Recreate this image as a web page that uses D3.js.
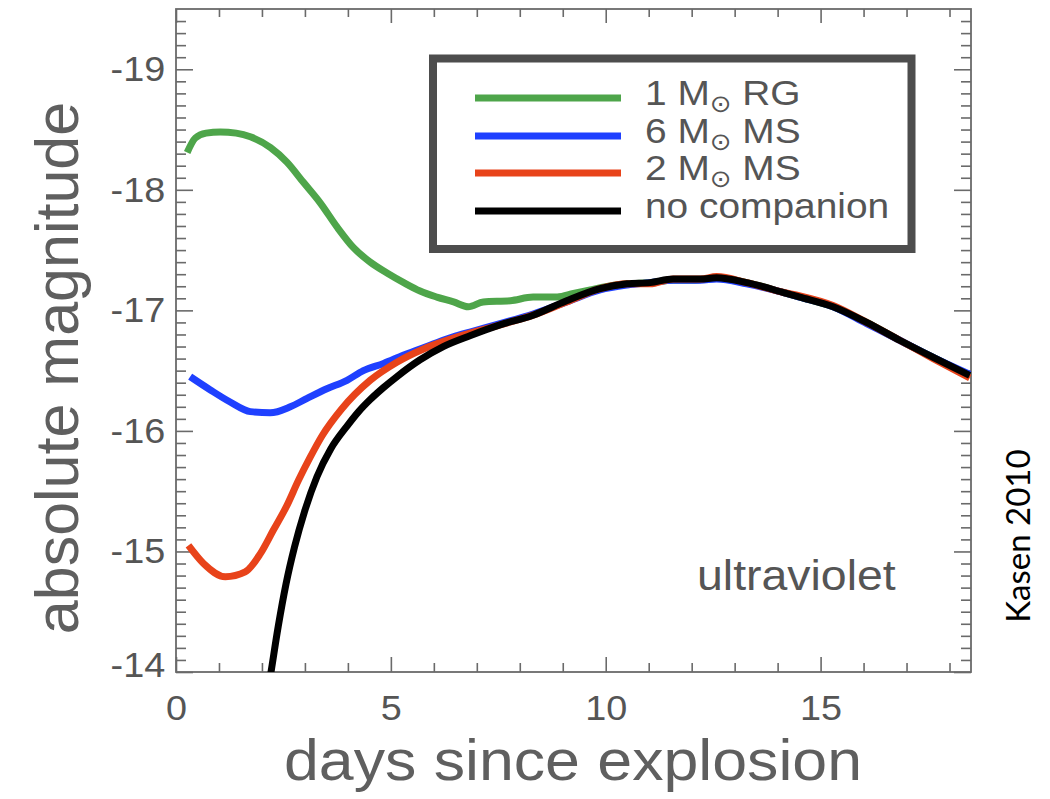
<!DOCTYPE html>
<html>
<head>
<meta charset="utf-8">
<script src="https://cdn.jsdelivr.net/npm/d3@7"></script>
<style>
  body { margin: 0; background: #fff; }
  text { font-family: "Liberation Sans", Arial, Helvetica, sans-serif; }
</style>
</head>
<body>
<svg id="chart" width="1050" height="799"></svg>
<script>
// days since explosion, absolute magnitude
const redGiant = [
  [0.26, -18.31], [0.45, -18.43], [0.7, -18.47], [1.03, -18.48], [1.4, -18.47],
  [1.73, -18.44], [2.2, -18.35], [2.58, -18.23], [2.97, -18.06], [3.36, -17.89],
  [3.75, -17.69], [4.13, -17.52], [4.52, -17.4], [4.91, -17.31], [5.3, -17.23],
  [5.68, -17.16], [6.07, -17.11], [6.46, -17.07], [6.8, -17.03], [7.15, -17.07],
  [7.78, -17.08], [8.31, -17.11], [8.87, -17.11], [9.25, -17.14], [9.64, -17.17],
  [9.9, -17.19], [10.5, -17.22], [11.03, -17.23], [11.57, -17.25], [12.03, -17.25],
  [12.58, -17.27], [13.28, -17.23], [14.12, -17.15], [14.52, -17.11], [15.29, -17.03],
  [16.07, -16.9], [16.85, -16.75], [17.62, -16.61], [18.47, -16.46]
];
const ms6 = [
  [0.33, -16.45], [0.8, -16.34], [1.26, -16.24], [1.73, -16.16], [2.19, -16.15],
  [2.66, -16.2], [3.05, -16.27], [3.51, -16.35], [3.98, -16.42], [4.36, -16.5],
  [4.83, -16.56], [5.3, -16.63], [5.91, -16.71], [6.45, -16.78], [6.84, -16.82],
  [7.54, -16.89], [8.31, -16.97], [9.09, -17.07], [9.87, -17.17], [10.5, -17.21],
  [11.03, -17.23], [11.57, -17.25], [12.2, -17.25], [12.58, -17.26], [13.28, -17.22],
  [14.12, -17.15], [14.52, -17.11], [15.29, -17.03], [16.07, -16.89], [16.85, -16.75],
  [17.62, -16.61], [18.47, -16.47]
];
const ms2 = [
  [0.29, -15.05], [0.64, -14.9], [1.15, -14.79], [1.61, -14.83], [1.96, -14.98],
  [2.27, -15.18], [2.58, -15.38], [2.85, -15.59], [3.12, -15.78], [3.4, -15.96],
  [3.85, -16.18], [4.52, -16.42], [5.14, -16.57], [5.76, -16.68], [6.46, -16.77],
  [7.54, -16.88], [8.31, -16.96], [9.09, -17.07], [9.87, -17.18], [10.5, -17.22],
  [11.03, -17.22], [11.57, -17.26], [12.2, -17.26], [12.58, -17.28], [13.28, -17.23],
  [14.12, -17.15], [14.52, -17.12], [15.29, -17.04], [16.07, -16.9], [16.85, -16.75],
  [17.62, -16.6], [18.47, -16.44]
];
const noCompanion = [
  [2.1, -13.75], [2.22, -14.02], [2.38, -14.38], [2.56, -14.73], [2.76, -15.04],
  [2.99, -15.33], [3.28, -15.62], [3.6, -15.85], [3.98, -16.04], [4.25, -16.16],
  [4.52, -16.26], [4.83, -16.36], [5.14, -16.45], [5.68, -16.59], [6.22, -16.7],
  [6.84, -16.79], [7.54, -16.88], [8.31, -16.96], [9.09, -17.08], [9.87, -17.18],
  [10.5, -17.22], [11.03, -17.23], [11.57, -17.26], [12.2, -17.26], [12.58, -17.27],
  [13.28, -17.23], [14.12, -17.15], [14.52, -17.11], [15.29, -17.03], [16.07, -16.9],
  [16.85, -16.75], [17.62, -16.61], [18.47, -16.46]
];

const seriesNames = ["1 M", "6 M", "2 M", "no companion"];
const seriesSuffix = [" RG", " MS", " MS", ""];
const seriesColors = ["#4ea54a", "#1f40ff", "#e8431a", "#000000"];
const seriesData = [redGiant, ms6, ms2, noCompanion];

const xMajor = [0, 5, 10, 15];
const yMajor = [-19, -18, -17, -16, -15, -14];

const svg = d3.select("#chart");
const plotLeft = 176, plotTop = 9, plotRight = 971, plotBottom = 672;
const stretch = 1.08; // the original text is a bit wide

var x = d3.scaleLinear().domain([0, 18.5]).range([plotLeft, plotRight]);
var y = d3.scaleLinear().domain([-14, -19.5]).range([plotBottom, plotTop]);

const xMinor = d3.range(1, 19).filter(d => d % 5 !== 0);
const yMinor = d3.range(-194, -140).map(d => d / 10).filter(d => Math.round(d * 10) % 10 !== 0);

const axisColor = "#6a6a6a";

function styleAxis(g) {
  g.select(".domain").remove();
  g.selectAll("line").attr("stroke", axisColor).attr("stroke-width", 1.6);
}

// minor ticks on all four sides
svg.append("g").attr("transform", `translate(0,${plotBottom})`)
  .call(d3.axisBottom(x).tickValues(xMinor).tickSize(-9).tickFormat(""))
  .call(styleAxis);
svg.append("g").attr("transform", `translate(0,${plotTop})`)
  .call(d3.axisTop(x).tickValues(xMinor).tickSize(-8).tickFormat(""))
  .call(styleAxis);
svg.append("g").attr("transform", `translate(${plotLeft},0)`)
  .call(d3.axisLeft(y).tickValues(yMinor).tickSize(-10).tickFormat(""))
  .call(styleAxis);
svg.append("g").attr("transform", `translate(${plotRight},0)`)
  .call(d3.axisRight(y).tickValues(yMinor).tickSize(-10).tickFormat(""))
  .call(styleAxis);

// major ticks
let xAxis = svg.append("g").attr("transform", `translate(0,${plotBottom})`)
  .call(d3.axisBottom(x).tickValues(xMajor).tickSize(-15).tickPadding(23).tickFormat(d3.format("d")))
  .call(styleAxis);
svg.append("g").attr("transform", `translate(0,${plotTop})`)
  .call(d3.axisTop(x).tickValues(xMajor).tickSize(-14).tickFormat(""))
  .call(styleAxis);
let yAxis = svg.append("g").attr("transform", `translate(${plotLeft},0)`)
  .call(d3.axisLeft(y).tickValues(yMajor).tickSize(-17).tickPadding(10).tickFormat(d => "-" + Math.abs(d)))
  .call(styleAxis);
svg.append("g").attr("transform", `translate(${plotRight},0)`)
  .call(d3.axisRight(y).tickValues(yMajor).tickSize(-17).tickFormat(""))
  .call(styleAxis);

[xAxis, yAxis].forEach(a => a.selectAll("text")
  .attr("fill", "#555")
  .style("font-size", "35px")
  .style("font-family", '"Liberation Sans", Arial, sans-serif')
  .attr("transform", `scale(${stretch},1)`));

// the bottom label sits a little above its tick
yAxis.selectAll(".tick").filter(d => d === -14).select("text").attr("y", -7);

// frame
svg.append("rect")
  .attr("x", plotLeft).attr("y", plotTop)
  .attr("width", plotRight - plotLeft).attr("height", plotBottom - plotTop)
  .attr("fill", "none").attr("stroke", axisColor).attr("stroke-width", 1.8);

// curves
svg.append("clipPath").attr("id", "plotClip")
  .append("rect").attr("x", plotLeft).attr("y", plotTop)
  .attr("width", plotRight - plotLeft).attr("height", plotBottom - plotTop);

var line = d3.line()
  .x(d => x(d[0]))
  .y(d => y(d[1]))
  .curve(d3.curveMonotoneX);

svg.append("g").attr("clip-path", "url(#plotClip)")
  .selectAll("path")
  .data(seriesData)
  .enter()
  .append("path")
  .attr("d", line)
  .attr("fill", "none")
  .attr("stroke", (d, i) => seriesColors[i])
  .attr("stroke-width", 7)
  .attr("stroke-linejoin", "round");

// legend
const legendRows = [98, 136, 173, 211];
let legend = svg.append("g");
legend.append("rect")
  .attr("x", 433).attr("y", 58.5)
  .attr("width", 478.5).attr("height", 190.5)
  .attr("fill", "#fff").attr("stroke", "#4d4d4d").attr("stroke-width", 8);

seriesNames.forEach((name, i) => {
  legend.append("line")
    .attr("x1", 475).attr("x2", 621)
    .attr("y1", legendRows[i]).attr("y2", legendRows[i])
    .attr("stroke", seriesColors[i]).attr("stroke-width", 7);
  let t = legend.append("text")
    .attr("transform", `translate(645,${legendRows[i] + 7}) scale(${stretch},1)`)
    .attr("fill", "#555")
    .style("font-size", "36px");
  t.append("tspan").text(name);
  if (seriesSuffix[i] !== "") {
    t.append("tspan").attr("dy", 7).style("font-size", "24px")
      .style("font-family", '"DejaVu Sans", sans-serif').text("\u2299");
    t.append("tspan").attr("dy", -7).text(seriesSuffix[i]);
  }
});

// labels
svg.append("text")
  .attr("transform", `translate(697,590) scale(${stretch},1)`)
  .attr("fill", "#555").style("font-size", "43px")
  .text("ultraviolet");

svg.append("text")
  .attr("transform", `translate(573,780) scale(${stretch},1)`)
  .attr("text-anchor", "middle")
  .attr("fill", "#5f5f5f").style("font-size", "58px")
  .text("days since explosion");

svg.append("text")
  .attr("transform", `translate(78,368) rotate(-90)`)
  .attr("text-anchor", "middle")
  .attr("fill", "#5f5f5f").style("font-size", "61px")
  .text("absolute magnitude");

svg.append("text")
  .attr("transform", `translate(1030,536) rotate(-90)`)
  .attr("text-anchor", "middle")
  .attr("fill", "#000")
  .style("font-family", "Lato, 'Open Sans', sans-serif")
  .style("font-size", "33px")
  .text("Kasen 2010");
</script>
</body>
</html>
